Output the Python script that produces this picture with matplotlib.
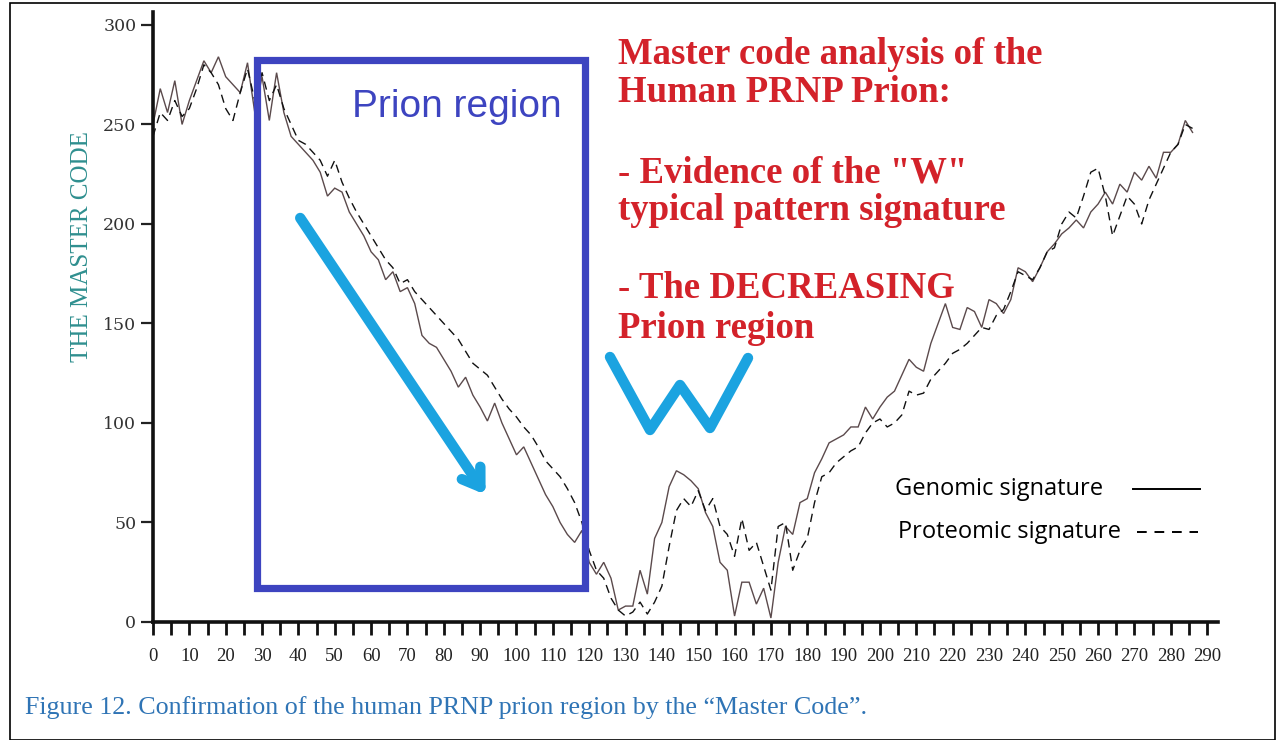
import matplotlib
matplotlib.use("Agg")
import matplotlib.pyplot as plt
from matplotlib.patches import Rectangle
from matplotlib.ticker import MultipleLocator
import numpy as np

# values, one point every 2 units
positions = list(range(0, 288, 2))

genomic = [250, 268, 256, 272, 250, 262, 272, 282, 276, 284,
           274, 270, 266, 281, 256, 274, 252, 276, 256, 244,
           240, 236, 232, 226, 214, 218, 216, 206, 200, 194,
           186, 182, 172, 176, 166, 168, 160, 144, 140, 138,
           132, 126, 118, 123, 114, 108, 101, 110, 100, 92,
           84, 88, 80, 72, 64, 58, 50, 44, 40, 46,
           30, 24, 30, 22, 6, 8, 8, 26, 14, 42,
           50, 68, 76, 74, 71, 67, 55, 48, 30, 26,
           3, 20, 20, 9, 17, 2, 30, 48, 44, 60,
           62, 75, 82, 90, 92, 94, 98, 98, 108, 102,
           108, 113, 116, 124, 132, 128, 126, 140, 150, 160,
           148, 147, 158, 156, 148, 162, 160, 155, 162, 178,
           176, 171, 178, 186, 190, 195, 198, 202, 198, 206,
           210, 216, 210, 220, 216, 226, 222, 229, 223, 236,
           236, 240, 252, 246]

proteomic = [244, 256, 252, 262, 254, 258, 268, 280, 276, 270,
             258, 252, 266, 278, 262, 276, 262, 270, 258, 250,
             242, 240, 236, 232, 224, 232, 221, 213, 206, 200,
             194, 188, 182, 178, 170, 172, 166, 162, 158, 154,
             150, 146, 142, 136, 130, 127, 124, 118, 112, 107,
             103, 98, 94, 88, 81, 77, 73, 67, 60, 50,
             36, 26, 22, 12, 6, 3, 5, 10, 4, 10,
             18, 38, 56, 62, 58, 66, 56, 62, 48, 44,
             33, 52, 36, 40, 28, 16, 48, 50, 26, 36,
             42, 60, 73, 75, 80, 83, 86, 88, 95, 100,
             102, 98, 100, 104, 116, 114, 115, 122, 126, 130,
             135, 137, 140, 144, 148, 147, 154, 157, 166, 176,
             174, 172, 178, 186, 188, 200, 206, 203, 214, 226,
             228, 214, 194, 204, 214, 210, 200, 212, 220, 228,
             236, 240, 250, 248]

x_labels = [str(v) for v in range(0, 300, 10)]
y_ticks = [0, 50, 100, 150, 200, 250, 300]

red_lines = ['Master code analysis of the', 'Human PRNP Prion:', '',
             '- Evidence of the "W"', 'typical pattern signature', '',
             '- The DECREASING', 'Prion region']

W, H = 1287, 740
fig = plt.figure(figsize=(W / 100, H / 100), dpi=100)
fig.patch.set_facecolor('white')

ax = fig.add_axes([153 / W, 1 - 622 / H, (1218 - 153) / W, (622 - 12) / H])
ax.set_xlim(0, 293)
ax.set_ylim(0, 306.5)

ax.plot(positions, genomic, color='#5b4a4c', lw=1.0, solid_joinstyle='miter')
ax.plot(positions, proteomic, color='#111111', lw=1.0, linestyle=(0, (6, 4)))

for side in ['top', 'right']:
    ax.spines[side].set_visible(False)
for side in ['left', 'bottom']:
    ax.spines[side].set_linewidth(2.6)
    ax.spines[side].set_color('#111111')

ax.xaxis.set_minor_locator(MultipleLocator(5))
ax.set_xticks(range(0, 300, 10))
ax.set_xticklabels(x_labels, family='Liberation Serif', fontsize=13.5, color='#222222')
ax.set_yticks(y_ticks)
ax.set_yticklabels([str(v) for v in y_ticks], family='DejaVu Serif', fontsize=12.5, color='#333333')
ax.tick_params(axis='x', which='both', direction='out', length=9, width=2, pad=10, color='#111111')
ax.tick_params(axis='y', which='major', direction='out', length=9, width=1.6, pad=3, color='#222222')

# prion region box
ax.add_patch(Rectangle((28.6, 17.1), 90.3, 265.3, fill=False, edgecolor='#3d44c0',
                       lw=5.2, joinstyle='miter', zorder=3))
ax.text(83.5, 259, 'Prion region', family='Liberation Sans', fontsize=28,
        color='#3d44c0', ha='center', va='center')

# decreasing arrow
cyan = '#1ba3e0'
ax.annotate('', xy=(91.5, 64), xytext=(40.5, 203),
            arrowprops=dict(arrowstyle='->, head_length=1.2, head_width=0.8',
                            color=cyan, lw=7.5, capstyle='round', joinstyle='round',
                            shrinkA=0, shrinkB=0))

# the "W"
fig.add_artist(plt.Line2D(np.array([610, 650, 680, 710, 748]) / W,
                          1 - np.array([357, 430, 385, 428, 358]) / H,
                          color=cyan, lw=7.5, solid_capstyle='round',
                          solid_joinstyle='round', transform=fig.transFigure))

# red annotation text
red_y = [54, 92, 133, 173, 211, 250, 289, 328]
for line, yy in zip(red_lines, red_y):
    if line:
        fig.text(618 / W, 1 - yy / H, line, family='Liberation Serif', fontweight='bold',
                 fontsize=26.5, color='#d3222a', ha='left', va='center')

# legend made by hand
fig.text(895 / W, 1 - 489 / H, 'Genomic signature', family='Open Sans',
         fontsize=17, color='black', ha='left', va='center')
fig.text(898 / W, 1 - 532 / H, 'Proteomic signature', family='Open Sans',
         fontsize=17, color='black', ha='left', va='center')
fig.add_artist(plt.Line2D([1133 / W, 1200 / W], [1 - 489 / H] * 2, color='black', lw=1.4,
                          transform=fig.transFigure))
fig.add_artist(plt.Line2D([1137 / W, 1198 / W], [1 - 532 / H] * 2, color='black', lw=1.4,
                          linestyle=(0, (5, 4)), transform=fig.transFigure))

# y title and caption
fig.text(82 / W, 1 - 247 / H, 'THE MASTER CODE', family='Liberation Serif', fontsize=18,
         color='#2f8f8f', rotation=90, ha='center', va='center')
fig.text(25 / W, 1 - 708 / H,
         'Figure 12. Confirmation of the human PRNP prion region by the \u201cMaster Code\u201d.',
         family='Liberation Serif', fontsize=18.7, color='#2f74b5', ha='left', va='center')

# frame around the figure
fig.add_artist(Rectangle((10 / W, 0), (1275 - 10) / W, 1 - 3 / H, fill=False,
                         edgecolor='black', lw=1.2, transform=fig.transFigure))

fig.savefig('out.png', dpi=100)
